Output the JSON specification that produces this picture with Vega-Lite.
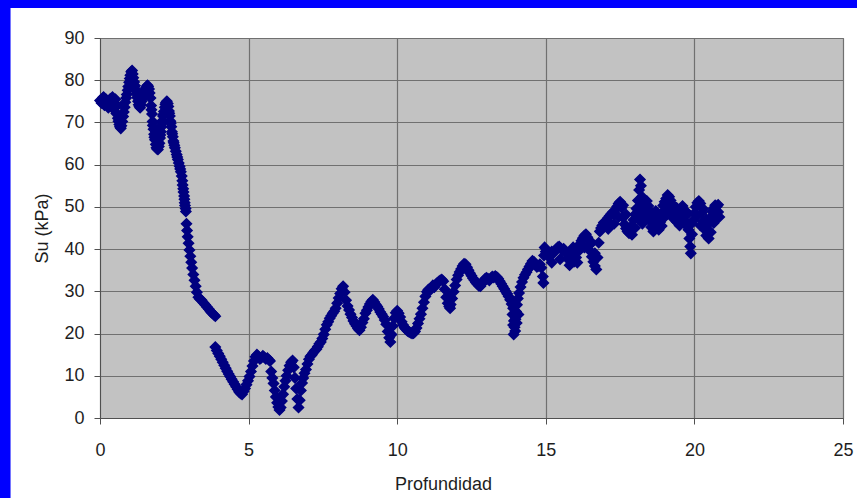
{
  "$schema": "https://vega.github.io/schema/vega-lite/v6.json",
  "width": 743,
  "height": 380,
  "autosize": {"type": "none"},
  "padding": {"left": 100, "top": 38, "right": 14, "bottom": 80},
  "background": "white",
  "config": {
    "view": {"fill": "#c2c2c2", "stroke": "#707070", "strokeWidth": 1},
    "axis": {
      "labelFont": "Liberation Sans",
      "titleFont": "Liberation Sans",
      "labelFontSize": 18,
      "titleFontSize": 18,
      "titleFontWeight": "normal",
      "labelColor": "#1e1e1e",
      "titleColor": "#1e1e1e",
      "labelFlush": false,
      "labelOverlap": false,
      "gridColor": "#707070",
      "gridOpacity": 1,
      "gridWidth": 1.2,
      "domainColor": "#505050",
      "tickColor": "#505050",
      "tickSize": 6
    }
  },
  "layer": [
    {
      "data": {"name": "ensayo", "values": [
        {"prof":0.00,"su":75.2},{"prof":0.05,"su":74.6},{"prof":0.10,"su":75.8},{"prof":0.12,"su":76.0},{"prof":0.15,"su":74.1},
        {"prof":0.20,"su":75.5},{"prof":0.25,"su":74.8},{"prof":0.28,"su":73.5},{"prof":0.30,"su":73.9},{"prof":0.35,"su":75.6},
        {"prof":0.40,"su":74.7},{"prof":0.42,"su":76.0},{"prof":0.45,"su":73.2},{"prof":0.50,"su":74.0},{"prof":0.52,"su":75.5},
        {"prof":0.55,"su":72.1},{"prof":0.58,"su":74.0},{"prof":0.60,"su":71.0},{"prof":0.62,"su":70.3},{"prof":0.65,"su":69.5},
        {"prof":0.67,"su":69.0},{"prof":0.70,"su":68.6},{"prof":0.72,"su":69.2},{"prof":0.75,"su":70.2},{"prof":0.78,"su":71.4},
        {"prof":0.80,"su":72.5},{"prof":0.83,"su":73.6},{"prof":0.85,"su":74.8},{"prof":0.88,"su":75.8},{"prof":0.90,"su":76.6},
        {"prof":0.93,"su":77.6},{"prof":0.95,"su":78.5},{"prof":0.98,"su":79.5},{"prof":1.00,"su":80.4},{"prof":1.02,"su":81.2},
        {"prof":1.05,"su":82.0},{"prof":1.08,"su":82.3},{"prof":1.10,"su":81.5},{"prof":1.12,"su":80.6},{"prof":1.15,"su":79.6},
        {"prof":1.18,"su":78.7},{"prof":1.20,"su":77.8},{"prof":1.22,"su":76.8},{"prof":1.25,"su":75.9},{"prof":1.28,"su":75.0},
        {"prof":1.30,"su":74.2},{"prof":1.33,"su":73.8},{"prof":1.35,"su":73.5},{"prof":1.38,"su":74.2},{"prof":1.40,"su":75.0},
        {"prof":1.42,"su":75.6},{"prof":1.45,"su":76.4},{"prof":1.48,"su":76.9},{"prof":1.50,"su":77.3},{"prof":1.52,"su":77.8},
        {"prof":1.55,"su":78.2},{"prof":1.58,"su":78.6},{"prof":1.60,"su":78.8},{"prof":1.62,"su":78.5},{"prof":1.65,"su":77.9},
        {"prof":1.67,"su":77.0},{"prof":1.70,"su":75.8},{"prof":1.72,"su":74.0},{"prof":1.73,"su":73.0},{"prof":1.75,"su":72.0},
        {"prof":1.77,"su":70.2},{"prof":1.78,"su":69.3},{"prof":1.80,"su":68.4},{"prof":1.82,"su":67.2},{"prof":1.83,"su":66.5},
        {"prof":1.85,"su":65.9},{"prof":1.88,"su":64.8},{"prof":1.90,"su":64.0},{"prof":1.92,"su":63.7},{"prof":1.95,"su":63.6},
        {"prof":1.98,"su":64.3},{"prof":2.00,"su":65.1},{"prof":2.02,"su":66.3},{"prof":2.03,"su":67.0},{"prof":2.05,"su":67.8},
        {"prof":2.07,"su":69.0},{"prof":2.08,"su":69.8},{"prof":2.10,"su":70.4},{"prof":2.12,"su":71.5},{"prof":2.13,"su":71.9},
        {"prof":2.15,"su":72.6},{"prof":2.18,"su":73.6},{"prof":2.20,"su":74.3},{"prof":2.22,"su":74.7},{"prof":2.25,"su":75.0},
        {"prof":2.28,"su":74.5},{"prof":2.30,"su":73.8},{"prof":2.32,"su":72.7},{"prof":2.33,"su":72.2},{"prof":2.35,"su":71.5},
        {"prof":2.37,"su":70.3},{"prof":2.38,"su":69.8},{"prof":2.40,"su":69.0},{"prof":2.42,"su":67.8},{"prof":2.43,"su":67.3},
        {"prof":2.45,"su":66.6},{"prof":2.47,"su":65.6},{"prof":2.48,"su":65.2},{"prof":2.50,"su":64.6},{"prof":2.52,"su":64.0},
        {"prof":2.55,"su":63.2},{"prof":2.58,"su":62.4},{"prof":2.60,"su":61.8},{"prof":2.62,"su":61.2},{"prof":2.65,"su":60.4},
        {"prof":2.68,"su":59.6},{"prof":2.70,"su":59.0},{"prof":2.72,"su":58.3},{"prof":2.75,"su":57.3},{"prof":2.77,"su":56.2},
        {"prof":2.78,"su":55.2},{"prof":2.80,"su":54.3},{"prof":2.81,"su":53.5},{"prof":2.83,"su":52.6},{"prof":2.84,"su":51.8},
        {"prof":2.85,"su":51.0},{"prof":2.86,"su":50.3},{"prof":2.88,"su":49.6},{"prof":2.89,"su":48.9},
        {"prof":2.91,"su":46.0},{"prof":2.93,"su":44.4},{"prof":2.95,"su":42.9},{"prof":2.98,"su":41.4},
        {"prof":3.01,"su":39.8},{"prof":3.04,"su":38.3},{"prof":3.07,"su":36.9},{"prof":3.10,"su":35.5},{"prof":3.14,"su":34.0},
        {"prof":3.18,"su":32.6},{"prof":3.22,"su":31.2},{"prof":3.26,"su":29.8},{"prof":3.31,"su":28.6},{"prof":3.36,"su":28.2},
        {"prof":3.42,"su":27.9},{"prof":3.48,"su":27.3},{"prof":3.54,"su":26.8},{"prof":3.60,"su":26.3},{"prof":3.66,"su":25.8},
        {"prof":3.72,"su":25.2},{"prof":3.78,"su":24.8},{"prof":3.84,"su":24.4},{"prof":3.88,"su":24.1},
        {"prof":3.88,"su":16.8},{"prof":3.93,"su":16.0},{"prof":3.98,"su":15.3},{"prof":4.03,"su":14.6},{"prof":4.08,"su":13.9},
        {"prof":4.13,"su":13.2},{"prof":4.18,"su":12.5},{"prof":4.23,"su":11.8},{"prof":4.28,"su":11.1},{"prof":4.33,"su":10.4},
        {"prof":4.38,"su":9.8},{"prof":4.43,"su":9.2},{"prof":4.48,"su":8.6},{"prof":4.53,"su":8.0},{"prof":4.58,"su":7.4},
        {"prof":4.63,"su":6.8},{"prof":4.68,"su":6.2},{"prof":4.73,"su":5.8},{"prof":4.78,"su":5.6},{"prof":4.83,"su":6.3},
        {"prof":4.88,"su":7.0},{"prof":4.93,"su":7.9},{"prof":4.98,"su":8.8},{"prof":5.03,"su":9.8},{"prof":5.08,"su":11.0},
        {"prof":5.13,"su":12.3},{"prof":5.18,"su":13.5},{"prof":5.23,"su":14.5},{"prof":5.28,"su":15.0},{"prof":5.33,"su":14.6},
        {"prof":5.38,"su":14.0},{"prof":5.43,"su":14.3},{"prof":5.48,"su":14.7},{"prof":5.53,"su":14.4},{"prof":5.58,"su":14.0},
        {"prof":5.63,"su":14.2},{"prof":5.68,"su":13.8},{"prof":5.72,"su":13.5},{"prof":5.76,"su":11.0},{"prof":5.80,"su":9.5},
        {"prof":5.84,"su":8.2},{"prof":5.88,"su":6.5},{"prof":5.92,"su":5.0},{"prof":5.96,"su":3.6},{"prof":6.00,"su":2.6},
        {"prof":6.04,"su":1.9},{"prof":6.08,"su":2.5},{"prof":6.12,"su":4.0},{"prof":6.16,"su":5.6},{"prof":6.20,"su":7.4},
        {"prof":6.24,"su":8.8},{"prof":6.28,"su":10.0},{"prof":6.33,"su":11.3},{"prof":6.38,"su":12.4},{"prof":6.43,"su":13.2},
        {"prof":6.48,"su":13.6},{"prof":6.52,"su":12.0},{"prof":6.56,"su":9.5},{"prof":6.60,"su":7.0},{"prof":6.64,"su":4.5},
        {"prof":6.68,"su":2.5},{"prof":6.72,"su":4.2},{"prof":6.76,"su":6.5},{"prof":6.80,"su":8.3},{"prof":6.84,"su":9.5},
        {"prof":6.88,"su":10.6},{"prof":6.93,"su":11.5},{"prof":6.98,"su":12.8},{"prof":7.03,"su":13.9},{"prof":7.08,"su":14.6},
        {"prof":7.13,"su":15.0},{"prof":7.18,"su":15.5},{"prof":7.23,"su":16.0},{"prof":7.28,"su":16.3},{"prof":7.33,"su":16.9},
        {"prof":7.38,"su":17.6},{"prof":7.43,"su":18.0},{"prof":7.48,"su":18.8},{"prof":7.53,"su":19.8},{"prof":7.58,"su":21.0},
        {"prof":7.63,"su":22.1},{"prof":7.68,"su":22.8},{"prof":7.73,"su":23.6},{"prof":7.78,"su":24.2},{"prof":7.83,"su":24.8},
        {"prof":7.88,"su":25.3},{"prof":7.93,"su":26.0},{"prof":7.98,"su":27.2},{"prof":8.03,"su":28.4},{"prof":8.08,"su":29.5},
        {"prof":8.13,"su":30.6},{"prof":8.18,"su":31.2},{"prof":8.23,"su":29.8},{"prof":8.28,"su":27.9},{"prof":8.33,"su":26.5},
        {"prof":8.38,"su":25.6},{"prof":8.43,"su":24.6},{"prof":8.48,"su":23.8},{"prof":8.53,"su":23.0},{"prof":8.58,"su":22.3},
        {"prof":8.63,"su":21.8},{"prof":8.68,"su":21.2},{"prof":8.73,"su":20.8},{"prof":8.78,"su":21.5},{"prof":8.83,"su":22.6},
        {"prof":8.88,"su":23.5},{"prof":8.93,"su":24.8},{"prof":8.98,"su":25.5},{"prof":9.03,"su":26.3},{"prof":9.08,"su":27.0},
        {"prof":9.13,"su":27.6},{"prof":9.18,"su":28.0},{"prof":9.23,"su":27.5},{"prof":9.28,"su":26.9},{"prof":9.33,"su":26.4},
        {"prof":9.38,"su":25.8},{"prof":9.43,"su":25.1},{"prof":9.48,"su":24.6},{"prof":9.53,"su":24.0},{"prof":9.58,"su":23.2},
        {"prof":9.63,"su":22.2},{"prof":9.68,"su":20.5},{"prof":9.73,"su":19.0},{"prof":9.77,"su":18.0},{"prof":9.81,"su":19.8},
        {"prof":9.85,"su":21.8},{"prof":9.90,"su":23.6},{"prof":9.95,"su":24.9},{"prof":10.00,"su":25.4},{"prof":10.05,"su":24.8},
        {"prof":10.10,"su":23.9},{"prof":10.15,"su":22.8},{"prof":10.20,"su":22.0},{"prof":10.25,"su":21.4},{"prof":10.30,"su":21.0},
        {"prof":10.35,"su":20.6},{"prof":10.40,"su":20.4},{"prof":10.45,"su":20.2},{"prof":10.50,"su":20.0},{"prof":10.55,"su":20.1},
        {"prof":10.60,"su":20.5},{"prof":10.65,"su":21.3},{"prof":10.70,"su":22.4},{"prof":10.75,"su":23.5},{"prof":10.80,"su":24.6},
        {"prof":10.85,"su":26.0},{"prof":10.90,"su":27.4},{"prof":10.95,"su":28.8},{"prof":11.00,"su":29.9},{"prof":11.05,"su":30.4},
        {"prof":11.10,"su":30.2},{"prof":11.15,"su":30.8},{"prof":11.20,"su":31.4},{"prof":11.25,"su":31.0},{"prof":11.30,"su":31.6},
        {"prof":11.35,"su":32.0},{"prof":11.40,"su":32.3},{"prof":11.45,"su":32.6},{"prof":11.50,"su":32.8},{"prof":11.55,"su":32.4},
        {"prof":11.60,"su":30.5},{"prof":11.65,"su":28.6},{"prof":11.70,"su":27.2},{"prof":11.72,"su":28.8},{"prof":11.75,"su":26.4},
        {"prof":11.78,"su":26.0},{"prof":11.80,"su":26.9},{"prof":11.85,"su":28.3},{"prof":11.90,"su":29.9},{"prof":11.95,"su":31.4},
        {"prof":12.00,"su":32.8},{"prof":12.05,"su":33.8},{"prof":12.10,"su":34.6},{"prof":12.15,"su":35.3},{"prof":12.20,"su":36.0},
        {"prof":12.25,"su":36.5},{"prof":12.30,"su":36.4},{"prof":12.35,"su":35.7},{"prof":12.40,"su":35.0},{"prof":12.45,"su":34.3},
        {"prof":12.50,"su":33.7},{"prof":12.55,"su":33.1},{"prof":12.60,"su":32.6},{"prof":12.65,"su":32.1},{"prof":12.70,"su":31.7},
        {"prof":12.75,"su":31.3},{"prof":12.80,"su":31.2},{"prof":12.85,"su":31.8},{"prof":12.90,"su":32.4},{"prof":12.95,"su":32.9},
        {"prof":13.00,"su":33.2},{"prof":13.05,"su":33.0},{"prof":13.10,"su":32.6},{"prof":13.15,"su":33.1},{"prof":13.20,"su":33.5},
        {"prof":13.25,"su":33.3},{"prof":13.30,"su":33.6},{"prof":13.35,"su":33.4},{"prof":13.40,"su":33.0},{"prof":13.45,"su":32.4},
        {"prof":13.50,"su":31.8},{"prof":13.55,"su":31.2},{"prof":13.60,"su":30.6},{"prof":13.65,"su":30.0},{"prof":13.70,"su":29.4},
        {"prof":13.75,"su":28.8},{"prof":13.80,"su":28.0},{"prof":13.85,"su":27.0},{"prof":13.88,"su":24.5},{"prof":13.90,"su":22.0},
        {"prof":13.90,"su":26.0},{"prof":13.92,"su":19.8},{"prof":13.93,"su":23.0},{"prof":13.95,"su":21.5},{"prof":13.97,"su":20.6},
        {"prof":13.98,"su":23.4},{"prof":14.00,"su":25.2},{"prof":14.02,"su":22.5},{"prof":14.03,"su":26.8},{"prof":14.06,"su":28.3},
        {"prof":14.08,"su":24.5},{"prof":14.10,"su":29.6},{"prof":14.15,"su":31.0},{"prof":14.20,"su":32.2},{"prof":14.25,"su":33.2},
        {"prof":14.30,"su":33.9},{"prof":14.35,"su":34.5},{"prof":14.40,"su":35.2},{"prof":14.45,"su":35.9},{"prof":14.50,"su":36.5},
        {"prof":14.55,"su":37.2},{"prof":14.60,"su":37.0},{"prof":14.65,"su":36.3},{"prof":14.70,"su":35.8},{"prof":14.75,"su":36.0},
        {"prof":14.80,"su":36.4},{"prof":14.85,"su":35.6},{"prof":14.90,"su":33.5},{"prof":14.92,"su":32.0},{"prof":14.94,"su":38.5},
        {"prof":14.96,"su":40.4},{"prof":15.00,"su":39.4},{"prof":15.05,"su":38.6},{"prof":15.10,"su":38.2},{"prof":15.15,"su":38.8},
        {"prof":15.20,"su":39.4},{"prof":15.20,"su":36.8},{"prof":15.25,"su":39.0},{"prof":15.30,"su":39.6},{"prof":15.35,"su":40.0},
        {"prof":15.40,"su":40.4},{"prof":15.45,"su":40.6},{"prof":15.48,"su":37.6},{"prof":15.50,"su":40.2},{"prof":15.55,"su":39.8},
        {"prof":15.60,"su":40.1},{"prof":15.65,"su":39.6},{"prof":15.70,"su":38.8},{"prof":15.75,"su":37.6},{"prof":15.80,"su":36.2},
        {"prof":15.83,"su":38.5},{"prof":15.87,"su":39.8},{"prof":15.92,"su":40.4},{"prof":15.95,"su":37.0},{"prof":15.97,"su":39.5},
        {"prof":16.02,"su":38.0},{"prof":16.06,"su":36.8},{"prof":16.10,"su":39.5},{"prof":16.15,"su":41.2},{"prof":16.20,"su":42.0},
        {"prof":16.25,"su":42.6},{"prof":16.30,"su":43.2},{"prof":16.30,"su":40.4},{"prof":16.35,"su":43.5},{"prof":16.40,"su":42.8},
        {"prof":16.45,"su":41.0},{"prof":16.50,"su":39.5},{"prof":16.55,"su":38.2},{"prof":16.55,"su":41.5},{"prof":16.60,"su":37.0},
        {"prof":16.65,"su":36.0},{"prof":16.65,"su":39.0},{"prof":16.70,"su":35.2},{"prof":16.74,"su":38.0},{"prof":16.78,"su":41.5},
        {"prof":16.82,"su":44.2},{"prof":16.86,"su":45.0},{"prof":16.90,"su":45.6},{"prof":16.95,"su":46.3},{"prof":17.00,"su":46.0},
        {"prof":17.05,"su":46.8},{"prof":17.10,"su":47.4},{"prof":17.10,"su":44.8},{"prof":17.15,"su":47.9},{"prof":17.20,"su":48.3},
        {"prof":17.25,"su":48.7},{"prof":17.30,"su":48.2},{"prof":17.30,"su":46.0},{"prof":17.35,"su":49.4},{"prof":17.40,"su":50.1},
        {"prof":17.45,"su":50.8},{"prof":17.45,"su":47.6},{"prof":17.50,"su":51.2},{"prof":17.55,"su":49.8},{"prof":17.60,"su":47.5},
        {"prof":17.60,"su":50.4},{"prof":17.65,"su":45.9},{"prof":17.70,"su":44.9},{"prof":17.70,"su":48.2},{"prof":17.75,"su":44.2},
        {"prof":17.80,"su":43.8},{"prof":17.85,"su":44.5},{"prof":17.90,"su":45.6},{"prof":17.90,"su":43.4},{"prof":17.95,"su":46.9},
        {"prof":18.00,"su":48.2},{"prof":18.00,"su":45.0},{"prof":18.05,"su":49.6},{"prof":18.10,"su":51.5},{"prof":18.10,"su":47.2},
        {"prof":18.14,"su":54.0},{"prof":18.17,"su":56.5},{"prof":18.20,"su":55.0},{"prof":18.20,"su":48.6},{"prof":18.24,"su":52.4},
        {"prof":18.25,"su":46.0},{"prof":18.28,"su":50.6},{"prof":18.32,"su":49.8},{"prof":18.35,"su":47.5},{"prof":18.36,"su":50.6},
        {"prof":18.40,"su":51.4},{"prof":18.45,"su":50.2},{"prof":18.45,"su":47.0},{"prof":18.50,"su":49.0},{"prof":18.55,"su":48.0},
        {"prof":18.55,"su":45.2},{"prof":18.60,"su":47.2},{"prof":18.62,"su":44.2},{"prof":18.65,"su":46.5},{"prof":18.70,"su":46.0},
        {"prof":18.70,"su":49.0},{"prof":18.75,"su":45.2},{"prof":18.80,"su":44.6},{"prof":18.80,"su":48.2},{"prof":18.85,"su":46.4},
        {"prof":18.90,"su":48.5},{"prof":18.90,"su":45.5},{"prof":18.95,"su":50.3},{"prof":19.00,"su":51.2},{"prof":19.00,"su":47.6},
        {"prof":19.05,"su":52.0},{"prof":19.10,"su":52.8},{"prof":19.10,"su":49.5},{"prof":19.15,"su":52.4},{"prof":19.20,"su":51.5},
        {"prof":19.20,"su":48.4},{"prof":19.25,"su":50.6},{"prof":19.30,"su":50.1},{"prof":19.30,"su":47.2},{"prof":19.35,"su":49.5},
        {"prof":19.40,"su":49.8},{"prof":19.40,"su":46.5},{"prof":19.45,"su":49.1},{"prof":19.50,"su":48.5},{"prof":19.50,"su":45.6},
        {"prof":19.55,"su":48.0},{"prof":19.60,"su":47.6},{"prof":19.60,"su":50.2},{"prof":19.65,"su":46.8},{"prof":19.70,"su":46.2},
        {"prof":19.70,"su":49.0},{"prof":19.75,"su":45.4},{"prof":19.78,"su":48.4},{"prof":19.80,"su":44.6},{"prof":19.83,"su":42.5},
        {"prof":19.86,"su":40.6},{"prof":19.88,"su":39.0},{"prof":19.90,"su":46.0},{"prof":19.92,"su":43.5},{"prof":19.96,"su":46.8},
        {"prof":20.00,"su":48.5},{"prof":20.05,"su":50.0},{"prof":20.10,"su":51.0},{"prof":20.10,"su":47.8},{"prof":20.15,"su":51.4},
        {"prof":20.20,"su":50.8},{"prof":20.20,"su":45.6},{"prof":20.25,"su":48.6},{"prof":20.30,"su":46.5},{"prof":20.30,"su":49.5},
        {"prof":20.35,"su":44.6},{"prof":20.40,"su":43.2},{"prof":20.40,"su":47.0},{"prof":20.45,"su":44.5},{"prof":20.48,"su":42.5},
        {"prof":20.50,"su":46.2},{"prof":20.55,"su":47.6},{"prof":20.55,"su":44.0},{"prof":20.60,"su":48.9},{"prof":20.65,"su":49.7},
        {"prof":20.65,"su":46.2},{"prof":20.70,"su":50.4},{"prof":20.72,"su":47.2},{"prof":20.75,"su":50.1},{"prof":20.80,"su":48.8},
        {"prof":20.80,"su":50.5},{"prof":20.84,"su":47.6}
      ]},
      "mark": {
        "type": "point",
        "shape": "diamond",
        "filled": true,
        "size": 100,
        "color": "#000080",
        "stroke": "#000080",
        "strokeWidth": 1.5,
        "opacity": 1
      },
      "encoding": {
        "x": {
          "field": "prof",
          "type": "quantitative",
          "scale": {"domain": [0, 25], "nice": false, "zero": false},
          "axis": {
            "title": "Profundidad",
            "values": [0, 5, 10, 15, 20, 25],
            "grid": true,
            "labelPadding": 17,
            "titlePadding": 16,
            "titleX": 343
          }
        },
        "y": {
          "field": "su",
          "type": "quantitative",
          "scale": {"domain": [0, 90], "nice": false, "zero": false},
          "axis": {
            "title": "Su (kPa)",
            "values": [0, 10, 20, 30, 40, 50, 60, 70, 80, 90],
            "grid": true,
            "labelPadding": 10,
            "titlePadding": 12
          }
        }
      }
    },
    {
      "data": {"values": [{}]},
      "mark": {"type": "rect", "color": "#0000ff", "clip": false},
      "encoding": {
        "x": {"datum": -3.4, "type": "quantitative"},
        "x2": {"datum": -3.01},
        "y": {"datum": -20, "type": "quantitative"},
        "y2": {"datum": 100}
      }
    },
    {
      "data": {"values": [{}]},
      "mark": {"type": "rect", "color": "#0000ff", "clip": false},
      "encoding": {
        "x": {"datum": -3.4, "type": "quantitative"},
        "x2": {"datum": 26},
        "y": {"datum": 97.1, "type": "quantitative"},
        "y2": {"datum": 100}
      }
    }
  ]
}
